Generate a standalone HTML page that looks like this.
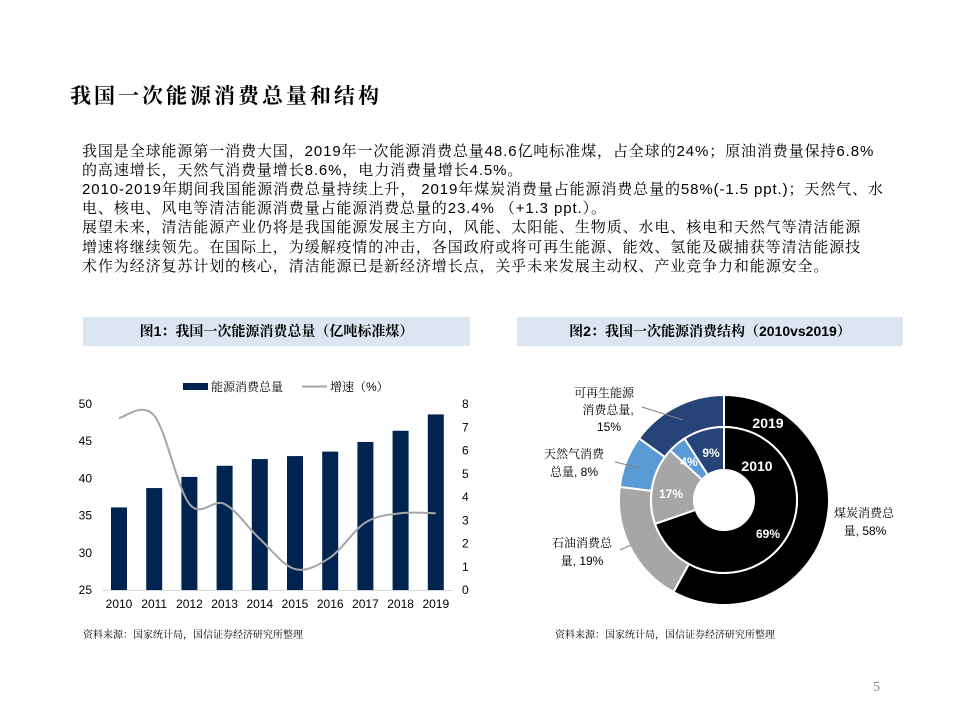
<!DOCTYPE html>
<html><head><meta charset="utf-8">
<style>
body{margin:0;background:#fff;width:959px;height:719px;position:relative;overflow:hidden;font-family:"Liberation Sans","Noto Serif CJK SC",serif;}
.t{position:absolute;white-space:nowrap;color:#000;}
#title{left:70px;top:80px;font-size:21px;font-weight:bold;font-family:"Liberation Sans","Noto Serif CJK SC",serif;letter-spacing:3px}
.p{left:82px;font-size:15px;line-height:19px;letter-spacing:0.9px}
.box{position:absolute;background:#dce6f2;height:29px;top:317px;font-size:14px;font-weight:bold;text-align:center;line-height:29px;font-family:"Liberation Sans","Noto Serif CJK SC",serif}
.src{position:absolute;font-size:10px;top:626px;font-family:"Liberation Sans","Noto Serif CJK SC",serif}
</style></head><body>
<div class="t" id="title">我国一次能源消费总量和结构</div>
<div>
<div class="t p" style="top:142px">我国是全球能源第一消费大国，2019年一次能源消费总量48.6亿吨标准煤，占全球的24%；原油消费量保持6.8%</div>
<div class="t p" style="top:161px">的高速增长，天然气消费量增长8.6%，电力消费量增长4.5%。</div>
<div class="t p" style="top:180px">2010-2019年期间我国能源消费总量持续上升， 2019年煤炭消费量占能源消费总量的58%(-1.5 ppt.)；天然气、水</div>
<div class="t p" style="top:199px">电、核电、风电等清洁能源消费量占能源消费总量的23.4% （+1.3 ppt.）。</div>
<div class="t p" style="top:218px">展望未来，清洁能源产业仍将是我国能源发展主方向，风能、太阳能、生物质、水电、核电和天然气等清洁能源</div>
<div class="t p" style="top:238px">增速将继续领先。在国际上，为缓解疫情的冲击，各国政府或将可再生能源、能效、氢能及碳捕获等清洁能源技</div>
<div class="t p" style="top:257px">术作为经济复苏计划的核心，清洁能源已是新经济增长点，关乎未来发展主动权、产业竞争力和能源安全。</div>
</div>
<div class="box" style="left:83px;width:387px">图1：我国一次能源消费总量（亿吨标准煤）</div>
<div class="box" style="left:517px;width:386px">图2：我国一次能源消费结构（2010vs2019）</div>
<div class="src" style="left:83px">资料来源：国家统计局，国信证券经济研究所整理</div>
<div class="src" style="left:555px">资料来源：国家统计局，国信证券经济研究所整理</div>
<div class="t" style="left:873px;top:680px;font-size:14px;color:#888;font-family:'Liberation Serif',serif">5</div>

<svg id="bar" width="959" height="719" style="position:absolute;left:0;top:0"></svg>
<svg id="pie" width="959" height="719" style="position:absolute;left:0;top:0"></svg>
<script>
const years=["2010","2011","2012","2013","2014","2015","2016","2017","2018","2019"];
const consumption=[36.1,38.7,40.2,41.7,42.6,43.0,43.6,44.9,46.4,48.6];
const growth=[7.4,7.5,3.7,3.7,2.2,0.9,1.4,2.9,3.3,3.3];
const leftTicks=[25,30,35,40,45,50];
const rightTicks=[0,1,2,3,4,5,6,7,8];
const labels2019=["煤炭","石油","天然气","可再生"];
const share2019=[58,19,8,15];
const share2010=[69,17,4,9];

const NS="http://www.w3.org/2000/svg";
function mk(p,tag,a){const e=document.createElementNS(NS,tag);for(const k in a)e.setAttribute(k,a[k]);p.appendChild(e);return e;}
const bar=document.getElementById('bar');
const plotTop=404,plotBot=590,x0=119,dx=35.2;
const yL=v=>plotBot-(v-25)/25*(plotBot-plotTop);
const yR=v=>plotBot-v/8*(plotBot-plotTop);
const xC=i=>x0+i*dx;
leftTicks.forEach(v=>{const t=mk(bar,'text',{x:92,y:yL(v)+4,'text-anchor':'end','font-size':12,fill:'#000'});t.textContent=v;

});
rightTicks.forEach(v=>{const t=mk(bar,'text',{x:462,y:yR(v)+4,'font-size':12,fill:'#000'});t.textContent=v;

});
mk(bar,'line',{x1:102,x2:453,y1:plotBot+0.5,y2:plotBot+0.5,stroke:'#d9d9d9'});
consumption.forEach((v,i)=>{const r=mk(bar,'rect',{x:xC(i)-8,y:yL(v),width:16,height:plotBot-yL(v),fill:'#002451'});

});
years.forEach((y,i)=>{const t=mk(bar,'text',{x:xC(i),y:608,'text-anchor':'middle','font-size':12,fill:'#000'});t.textContent=y;

});
const pts=growth.map((v,i)=>[xC(i),yR(v)]);
let d='M'+pts[0].join(',');
for(let i=0;i<pts.length-1;i++){const p0=pts[i-1]||pts[i],p1=pts[i],p2=pts[i+1],p3=pts[i+2]||p2;
d+=` C${p1[0]+(p2[0]-p0[0])/6},${p1[1]+(p2[1]-p0[1])/6} ${p2[0]-(p3[0]-p1[0])/6},${p2[1]-(p3[1]-p1[1])/6} ${p2[0]},${p2[1]}`;}
const ln=mk(bar,'path',{d:d,fill:'none',stroke:'#a6a6a6','stroke-width':2});


const lg=mk(bar,'rect',{x:183,y:383,width:25,height:7,fill:'#002451'});


let t=mk(bar,'text',{x:211,y:391,'font-size':12});t.textContent='能源消费总量';


mk(bar,'line',{x1:302,x2:327,y1:386.5,y2:386.5,stroke:'#a6a6a6','stroke-width':2});
t=mk(bar,'text',{x:330,y:391,'font-size':12});t.textContent='增速（%）';



const pie=document.getElementById('pie');
const cx=724,cy=500;
const colors=['#000000','#a6a6a6','#5b9bd5','#264478'];
function arc(r0,r1,a0,a1){const P=(r,a)=>[cx+r*Math.sin(a),cy-r*Math.cos(a)];const l=a1-a0>Math.PI?1:0;
const [x1,y1]=P(r1,a0),[x2,y2]=P(r1,a1),[x3,y3]=P(r0,a1),[x4,y4]=P(r0,a0);
return `M${x1},${y1}A${r1},${r1} 0 ${l} 1 ${x2},${y2}L${x3},${y3}A${r0},${r0} 0 ${l} 0 ${x4},${y4}Z`;}
function ring(vals,r0,r1,nm){const s=vals.reduce((a,b)=>a+b,0);let a=0;vals.forEach((v,i)=>{const a1=a+v/s*2*Math.PI;
const p=mk(pie,'path',{d:arc(r0,r1,a,a1),fill:colors[i],stroke:'#fff','stroke-width':2});

a=a1;});}
ring(share2019,73,105,'ring-2019');
ring(share2010,30,73,'ring-2010');
function tx(x,y,s,sz,col,anc,nm,fw){const e=mk(pie,'text',{x:x,y:y,'font-size':sz,fill:col,'text-anchor':anc||'middle','font-weight':fw||'normal'});e.textContent=s;

}
tx(768,428,'2019',14,'#fff','middle','ring-2019-label','bold');
tx(757,471,'2010',14,'#fff','middle','ring-2010-label','bold');
tx(768,538,share2010[0]+'%',12,'#fff','middle','pct-coal-2010','bold');
tx(671,498,share2010[1]+'%',12,'#fff','middle','pct-oil-2010','bold');
tx(689,466,share2010[2]+'%',12,'#fff','middle','pct-gas-2010','bold');
tx(711,457,share2010[3]+'%',12,'#fff','middle','pct-ren-2010','bold');
tx(604,397,'可再生能源',12,'#000','middle','label-ren');
tx(608,414,'消费总量,',12,'#000','middle','label-ren2');
tx(609,431,share2019[3]+'%',12,'#000','middle','label-ren3');
tx(574,458,'天然气消费',12,'#000','middle','label-gas');
tx(574,476,'总量, '+share2019[2]+'%',12,'#000','middle','label-gas2');
tx(582,547,'石油消费总',12,'#000','middle','label-oil');
tx(582,565,'量, '+share2019[1]+'%',12,'#000','middle','label-oil2');
tx(864,517,'煤炭消费总',12,'#000','middle','label-coal');
tx(865,535,'量, '+share2019[0]+'%',12,'#000','middle','label-coal2');
mk(pie,'line',{x1:642,y1:407,x2:683,y2:420,stroke:'#808080'});
mk(pie,'line',{x1:615,y1:462,x2:640,y2:468,stroke:'#808080'});
mk(pie,'line',{x1:620,y1:550,x2:631,y2:545,stroke:'#808080'});
</script>
</body></html>
